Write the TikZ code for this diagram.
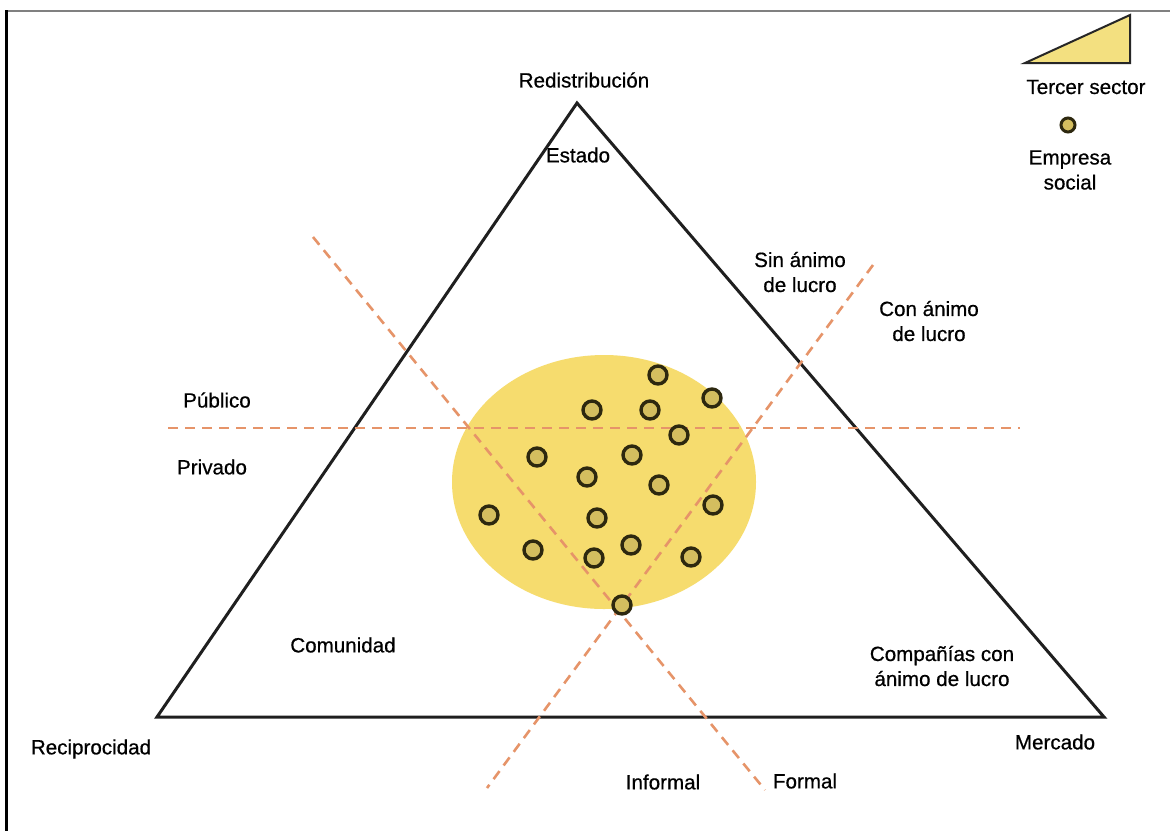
\documentclass[tikz,border=0pt]{standalone}
\usepackage{fontspec}
\setmainfont{Liberation Sans}
\newfontfamily\heavyfont{Liberation Sans}[FakeBold=0.6]
\begin{document}
\begin{tikzpicture}[x=1pt,y=-1pt,
  lbl/.style={inner sep=0pt,align=center,font=\heavyfont\fontsize{20.6}{25}\selectfont},
  tri/.style={draw=black!88,line width=3pt,line join=miter},
  split/.style={draw=dashorange,line width=2.6pt,dash pattern=on 10pt off 7pt},
  es/.style={circle,draw=esline,fill=esfill,line width=3.4pt,minimum size=18pt,inner sep=0pt},
  esleg/.style={circle,draw=esline,fill=esfill,line width=3pt,minimum size=14pt,inner sep=0pt}]
\definecolor{dashorange}{RGB}{230,148,105}
\definecolor{ellfill}{RGB}{246,220,110}
\definecolor{esfill}{RGB}{212,190,95}
\definecolor{esline}{RGB}{45,40,15}
\definecolor{legfill}{RGB}{243,224,128}
\useasboundingbox (0,0) rectangle (1170,831);
\fill[white] (0,0) rectangle (1170,831);
% frame
\coordinate (f1) at (6,10);
\coordinate (f2) at (6,831);
\coordinate (f3) at (8,11);
\coordinate (f4) at (1170,11);
\draw[line width=3pt,black] (f1) -- (f2);
\draw[line width=2pt,gray] (f3) -- (f4);
% main triangle
\coordinate (A) at (577,103);
\coordinate (B) at (157,717);
\coordinate (C) at (1104,717);
\draw[tri] (A) -- (B) -- (C) -- cycle;
% third sector ellipse
\fill[ellfill] (604,482) ellipse [x radius=152, y radius=127];
% dashed division lines
\coordinate (h1) at (168,428);
\coordinate (h2) at (1020,428);
\coordinate (d1a) at (313,237);
\coordinate (d1b) at (765,790);
\coordinate (d2a) at (873,265);
\coordinate (d2b) at (487,788);
\draw[split] (h1) -- (h2);
\draw[split] (d1a) -- (d1b);
\draw[split] (d2a) -- (d2b);
% social enterprises
\node[es] (e1) at (658,375) {};
\node[es] (e2) at (712,398) {};
\node[es] (e3) at (592,410) {};
\node[es] (e4) at (650,410) {};
\node[es] (e5) at (679,435) {};
\node[es] (e6) at (537,457) {};
\node[es] (e7) at (632,455) {};
\node[es] (e8) at (587,477) {};
\node[es] (e9) at (659,485) {};
\node[es] (e10) at (713,505) {};
\node[es] (e11) at (489,515) {};
\node[es] (e12) at (597,518) {};
\node[es] (e13) at (533,550) {};
\node[es] (e14) at (631,545) {};
\node[es] (e15) at (594,558) {};
\node[es] (e16) at (691,557) {};
\node[es] (e17) at (622,605) {};
% labels
\node[lbl] (redis) at (584,80) {Redistribución};
\node[lbl] (estado) at (578,155) {Estado};
\node[lbl] (sin) at (800,272) {Sin ánimo\\de lucro};
\node[lbl] (con) at (929,321) {Con ánimo\\de lucro};
\node[lbl] (pub) at (217,400) {Público};
\node[lbl] (priv) at (212,467) {Privado};
\node[lbl] (comu) at (343,645) {Comunidad};
\node[lbl] (comp) at (942,666) {Compañías con\\ánimo de lucro};
\node[lbl] (reci) at (91,749) {Reciprocidad};
\node[lbl] (merc) at (1055,742) {Mercado};
\node[lbl] (inf) at (663,782) {Informal};
\node[lbl] (form) at (805,781) {Formal};
% legend
\coordinate (l1) at (1025,63);
\coordinate (l2) at (1130,15);
\coordinate (l3) at (1130,63);
\filldraw[fill=legfill,draw=black!85,line width=2pt] (l1) -- (l2) -- (l3) -- cycle;
\node[lbl] (tercer) at (1086,87) {Tercer sector};
\node[esleg] (eleg) at (1068,125) {};
\node[lbl] (empresa) at (1070,170) {Empresa\\social};
\end{tikzpicture}
\end{document}
